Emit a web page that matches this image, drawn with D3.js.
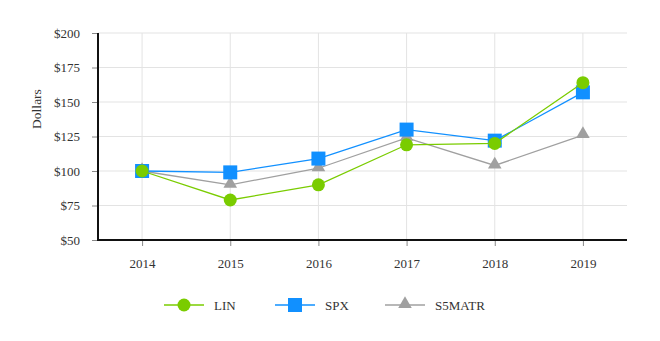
<!DOCTYPE html>
<html>
<head>
<meta charset="utf-8">
<script src="https://cdn.jsdelivr.net/npm/d3@7"></script>
<style>
  body { margin: 0; background: #fff; }
  text { font-family: "Liberation Serif", "Times New Roman", serif; fill: #333; }
</style>
</head>
<body>
<svg id="chart" width="660" height="341"></svg>
<script>
let years = ["2014", "2015", "2016", "2017", "2018", "2019"];
let linValues = [100, 79, 90, 119, 120, 164];
let spxValues = [100, 99, 109, 130, 122, 157];
let s5matrValues = [100, 90, 102, 124, 104, 126];
let yTicks = [50, 75, 100, 125, 150, 175, 200];

let series = [
  { name: "LIN", values: linValues, color: "#7acc00", shape: "circle" },
  { name: "SPX", values: spxValues, color: "#1190ff", shape: "square" },
  { name: "S5MATR", values: s5matrValues, color: "#a0a0a0", shape: "triangle" }
];

let svg = d3.select("#chart");
let plotLeft = 98, plotRight = 627, plotTop = 33, plotBottom = 240;

let x = d3.scalePoint().domain(years).range([plotLeft, plotRight]).padding(0.5);
let y = d3.scaleLinear().domain([50, 200]).range([plotBottom, plotTop]);

// grid
svg.append("g")
  .selectAll("line")
  .data(yTicks.slice(1))
  .enter()
  .append("line")
  .attr("x1", plotLeft).attr("x2", plotRight)
  .attr("y1", (d) => y(d)).attr("y2", (d) => y(d))
  .attr("stroke", "#e3e3e3");

svg.append("g")
  .selectAll("line")
  .data(years)
  .enter()
  .append("line")
  .attr("x1", (d) => x(d)).attr("x2", (d) => x(d))
  .attr("y1", plotTop).attr("y2", plotBottom)
  .attr("stroke", "#e3e3e3");

// axes
let yAxis = svg.append("g")
  .attr("transform", "translate(" + plotLeft + ",0)")
  .call(d3.axisLeft(y).tickValues(yTicks).tickSize(6).tickPadding(12).tickFormat((d) => "$" + d));
yAxis.select(".domain").remove();
yAxis.selectAll(".tick line").attr("stroke", "#888");
yAxis.selectAll("text").style("font-size", "13px");

let xAxis = svg.append("g")
  .attr("transform", "translate(0," + plotBottom + ")")
  .call(d3.axisBottom(x).tickSize(6).tickPadding(13));
xAxis.select(".domain").remove();
xAxis.selectAll(".tick line").attr("stroke", "#888");
xAxis.selectAll("text").style("font-size", "13px");

svg.append("line")
  .attr("x1", plotLeft).attr("x2", plotLeft).attr("y1", plotTop).attr("y2", plotBottom + 1)
  .attr("stroke", "#111").attr("stroke-width", 2);
svg.append("line")
  .attr("x1", plotLeft - 1).attr("x2", plotRight).attr("y1", plotBottom).attr("y2", plotBottom)
  .attr("stroke", "#111").attr("stroke-width", 2);

svg.append("text")
  .attr("transform", "translate(41," + 109 + ") rotate(-90)")
  .attr("text-anchor", "middle")
  .style("font-size", "13.5px")
  .text("Dollars");

let drawMarker = (g, shape, color, cx, cy) => {
  if (shape === "circle") {
    g.append("circle").attr("cx", cx).attr("cy", cy).attr("r", 6.5).attr("fill", color);
  } else if (shape === "square") {
    g.append("rect").attr("x", cx - 7).attr("y", cy - 7).attr("width", 14).attr("height", 14).attr("fill", color);
  } else {
    g.append("path")
      .attr("d", d3.symbol(d3.symbolTriangle, 80)())
      .attr("transform", "translate(" + cx + "," + (cy - 1) + ")")
      .attr("fill", color);
  }
};

let line = d3.line().x((d, i) => x(years[i])).y((d) => y(d));

// draw in reverse so LIN ends on top
series.slice().reverse().forEach((s) => {
  let g = svg.append("g");
  g.append("path")
    .datum(s.values)
    .attr("d", line)
    .attr("fill", "none")
    .attr("stroke", s.color)
    .attr("stroke-width", 1.3);
  s.values.forEach((v, i) => drawMarker(g, s.shape, s.color, x(years[i]), y(v)));
});

// legend
let legendX = [164, 275, 385];
series.forEach((s, i) => {
  let g = svg.append("g").attr("transform", "translate(" + legendX[i] + ",305)");
  g.append("line").attr("x1", 0).attr("x2", 40).attr("stroke", s.color).attr("stroke-width", 1.3);
  drawMarker(g, s.shape, s.color, 20, 0);
  g.append("text").attr("x", 50).attr("y", 4.5).style("font-size", "13px").text(s.name);
});
</script>
</body>
</html>
